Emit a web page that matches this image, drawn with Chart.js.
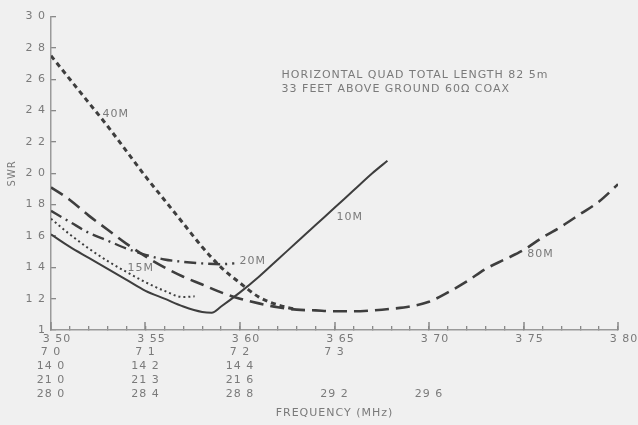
<!DOCTYPE html>
<html>
<head>
<meta charset="utf-8">
<title>Horizontal quad SWR</title>
<script src="https://cdn.jsdelivr.net/npm/chart.js@4"></script>
<style>
  html, body { margin: 0; padding: 0; background: #f0f0f0; }
  #wrap { width: 638px; height: 425px; position: relative; }
</style>
</head>
<body>
<div id="wrap"><canvas id="swrChart"></canvas></div>
<script>
// ======================= DATA =======================

const majorFreqs = [3.50, 3.55, 3.60, 3.65, 3.70, 3.75, 3.80];
const row80m = ['3 50', '3 55', '3 60', '3 65', '3 70', '3 75', '3 80'];
const row40m = ['7 0', '7 1', '7 2', '7 3', '', '', ''];
const row20m = ['14 0', '14 2', '14 4', '', '', '', ''];
const row15m = ['21 0', '21 3', '21 6', '', '', '', ''];
const row10m = ['28 0', '28 4', '28 8', '29 2', '29 6', '', ''];
const swrTickLabels = ['1', '1 2', '1 4', '1 6', '1 8', '2 0', '2 2', '2 4', '2 6', '2 8', '3 0'];

const freq40m = [3.50, 3.51, 3.52, 3.53, 3.54, 3.55, 3.56, 3.57, 3.58, 3.59, 3.60, 3.61, 3.62, 3.63];
const swr40m  = [2.75, 2.60, 2.45, 2.30, 2.14, 1.98, 1.83, 1.68, 1.53, 1.40, 1.30, 1.21, 1.16, 1.13];

const freq80m = [3.50, 3.51, 3.52, 3.53, 3.54, 3.55, 3.56, 3.57, 3.58, 3.59, 3.60, 3.61, 3.62, 3.63, 3.64, 3.65,
                 3.66, 3.67, 3.68, 3.69, 3.70, 3.71, 3.72, 3.73, 3.74, 3.75, 3.76, 3.77, 3.78, 3.79, 3.80];
const swr80m  = [1.91, 1.83, 1.73, 1.64, 1.55, 1.47, 1.40, 1.34, 1.29, 1.24, 1.20, 1.17, 1.145, 1.13, 1.125, 1.12,
                 1.12, 1.125, 1.135, 1.15, 1.18, 1.24, 1.31, 1.39, 1.45, 1.51, 1.59, 1.66, 1.74, 1.82, 1.93];

const freq20m = [3.50, 3.51, 3.52, 3.53, 3.54, 3.55, 3.56, 3.57, 3.58, 3.59, 3.597];
const swr20m  = [1.76, 1.69, 1.62, 1.57, 1.52, 1.48, 1.45, 1.435, 1.425, 1.42, 1.425];

const freq15m = [3.50, 3.51, 3.52, 3.53, 3.54, 3.55, 3.56, 3.57, 3.576];
const swr15m  = [1.71, 1.61, 1.52, 1.44, 1.37, 1.305, 1.25, 1.21, 1.215];

const freq10m = [3.50, 3.51, 3.52, 3.53, 3.54, 3.55, 3.56, 3.57, 3.58, 3.585, 3.59, 3.60,
                 3.61, 3.62, 3.63, 3.64, 3.65, 3.66, 3.67, 3.678];
const swr10m  = [1.61, 1.53, 1.46, 1.39, 1.32, 1.25, 1.20, 1.15, 1.115, 1.11, 1.15, 1.24,
                 1.34, 1.45, 1.56, 1.67, 1.78, 1.89, 2.00, 2.08];

// ======================= STYLE =======================

const paperColor = '#f0f0f0';
const inkColor = '#3e3e3e';
const textColor = '#7a7a7a';
const axisColor = '#9a9a9a';
const tickColor = '#888888';
const fontFamily = '"DejaVu Sans", sans-serif';

// text placed on the plot, anchored in data units
const notes = [
  { text: '40M', x: 3.5273, y: 2.377 },
  { text: '15M', x: 3.5405, y: 1.392 },
  { text: '20M', x: 3.5997, y: 1.442 },
  { text: '10M', x: 3.651, y: 1.72 },
  { text: '80M', x: 3.752, y: 1.486 },
  { text: 'HORIZONTAL QUAD TOTAL LENGTH 82 5m', x: 3.622, y: 2.624 },
  { text: '33 FEET ABOVE GROUND 60\u03A9 COAX', x: 3.622, y: 2.535 }
];

function toPoints(freqs, values) {
  return freqs.map((f, i) => ({ x: f, y: values[i] }));
}

function majorIndex(value) {
  const k = Math.round(value * 100);
  return majorFreqs.findIndex(f => Math.round(f * 100) === k);
}

function curve(label, freqs, values, dash, width) {
  return {
    label: label,
    data: toPoints(freqs, values),
    borderColor: inkColor,
    borderWidth: width,
    borderDash: dash,
    pointRadius: 0,
    cubicInterpolationMode: 'monotone',
    fill: false,
    xAxisID: 'x',
    yAxisID: 'y'
  };
}

// ======================= PLUGINS =======================

const paperPlugin = {
  id: 'paper',
  beforeDraw(chart) {
    const { ctx, width, height } = chart;
    ctx.save();
    ctx.fillStyle = paperColor;
    ctx.fillRect(0, 0, width, height);
    ctx.restore();
    ctx.letterSpacing = '1px';
  }
};

// longer marks at the labelled frequencies, plus the text written on the plot
const overlayPlugin = {
  id: 'overlay',
  afterDraw(chart) {
    const ctx = chart.ctx;
    const xs = chart.scales.x;
    const ys = chart.scales.y;
    const area = chart.chartArea;

    ctx.save();
    ctx.setLineDash([]);
    ctx.fillStyle = tickColor;
    majorFreqs.forEach(f => {
      const px = Math.round(xs.getPixelForValue(f));
      ctx.fillRect(px - 0.75, area.bottom - 8, 1.5, 8);
    });

    ctx.fillStyle = textColor;
    ctx.font = '11px ' + fontFamily;
    ctx.textAlign = 'left';
    ctx.textBaseline = 'middle';
    notes.forEach(n => {
      ctx.fillText(n.text, xs.getPixelForValue(n.x), ys.getPixelForValue(n.y));
    });
    ctx.restore();
  }
};

// ======================= CHART =======================

const canvas = document.getElementById('swrChart');

new Chart(canvas, {
  type: 'line',
  data: {
    datasets: [
      curve('40M', freq40m, swr40m, [5, 4], 3),
      curve('80M', freq80m, swr80m, [14, 7], 2.6),
      curve('20M', freq20m, swr20m, [12, 5, 2, 5], 2.4),
      curve('15M', freq15m, swr15m, [2, 3], 2),
      curve('10M', freq10m, swr10m, [], 2)
    ]
  },
  options: {
    responsive: true,
    maintainAspectRatio: false,
    animation: false,
    layout: { padding: { left: 0, right: 20, top: 13, bottom: 0 } },
    plugins: {
      legend: { display: false },
      tooltip: { enabled: false }
    },
    scales: {
      x: {
        type: 'linear',
        position: 'bottom',
        min: 3.5,
        max: 3.8,
        weight: 0,
        afterFit: (scale) => { scale.height = 15; },
        // negative tick length turns the marks inward, like the original
        grid: {
          display: true,
          drawOnChartArea: false,
          drawTicks: true,
          tickLength: -4,
          color: tickColor,
          lineWidth: 1.3
        },
        border: { display: true, color: axisColor, width: 1.5 },
        ticks: {
          stepSize: 0.01,
          autoSkip: false,
          maxRotation: 0,
          padding: 7,
          labelOffset: 6,
          color: textColor,
          font: { family: fontFamily, size: 11 },
          callback: (value) => {
            const i = majorIndex(value);
            return i >= 0 ? row80m[i] : '';
          }
        }
      },
      x2: {
        type: 'linear',
        position: 'bottom',
        min: 3.5,
        max: 3.8,
        weight: 1,
        afterFit: (scale) => { scale.height = 80; },
        grid: { display: false, drawTicks: false },
        border: { display: false },
        ticks: {
          stepSize: 0.01,
          autoSkip: false,
          maxRotation: 0,
          padding: 0,
          color: textColor,
          font: { family: fontFamily, size: 11, lineHeight: 14 / 11 },
          callback: (value) => {
            const i = majorIndex(value);
            return i >= 0 ? [row40m[i], row20m[i], row15m[i], row10m[i]] : '';
          }
        },
        title: {
          display: true,
          text: 'FREQUENCY (MHz)',
          color: textColor,
          font: { family: fontFamily, size: 11 },
          padding: { top: 0, bottom: 5 }
        }
      },
      y: {
        type: 'linear',
        min: 1,
        max: 3,
        afterFit: (scale) => { scale.width = 51; },
        grid: {
          display: true,
          drawOnChartArea: false,
          drawTicks: true,
          tickLength: -5,
          color: tickColor,
          lineWidth: 1.3
        },
        border: { display: true, color: axisColor, width: 1.5 },
        ticks: {
          stepSize: 0.2,
          padding: 10,
          color: textColor,
          font: { family: fontFamily, size: 11 },
          callback: (value) => swrTickLabels[Math.round((value - 1) * 5)]
        },
        title: {
          display: true,
          text: 'SWR',
          color: textColor,
          font: { family: fontFamily, size: 10 },
          padding: { top: 6, bottom: 0 }
        }
      }
    }
  },
  plugins: [paperPlugin, overlayPlugin]
});
</script>
</body>
</html>
